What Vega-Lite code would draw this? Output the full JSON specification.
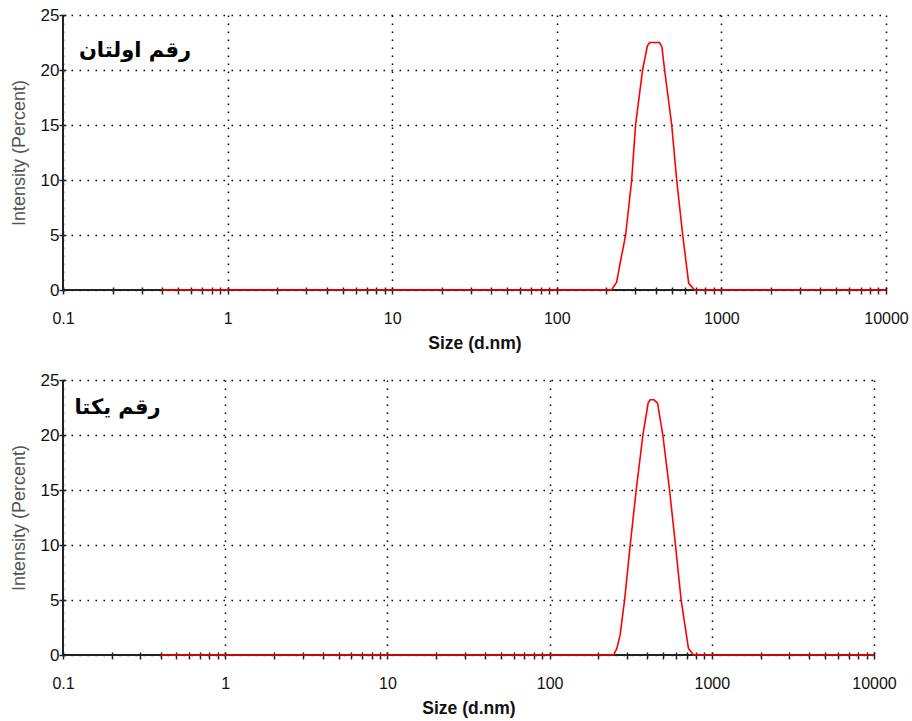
{
  "$schema": "https://vega.github.io/schema/vega-lite/v6.json",
  "background": "white",
  "padding": {"left": 10, "top": 6, "right": 4, "bottom": 2},
  "config": {
    "view": {"stroke": null},
    "concat": {"spacing": 19}
  },
  "datasets": {
    "top": [
      {"size": 0.4, "intensity": 0},
      {"size": 215, "intensity": 0},
      {"size": 231, "intensity": 0.7},
      {"size": 243, "intensity": 2.5},
      {"size": 262, "intensity": 5},
      {"size": 285, "intensity": 10},
      {"size": 301, "intensity": 15},
      {"size": 332, "intensity": 20},
      {"size": 355, "intensity": 22.2},
      {"size": 367, "intensity": 22.5},
      {"size": 421, "intensity": 22.5},
      {"size": 435, "intensity": 22.1},
      {"size": 452, "intensity": 20},
      {"size": 499, "intensity": 15},
      {"size": 535, "intensity": 10},
      {"size": 582, "intensity": 5},
      {"size": 633, "intensity": 0.6},
      {"size": 688, "intensity": 0},
      {"size": 10000, "intensity": 0}
    ],
    "bottom": [
      {"size": 0.4, "intensity": 0},
      {"size": 248, "intensity": 0},
      {"size": 260, "intensity": 0.6},
      {"size": 272, "intensity": 1.8},
      {"size": 290, "intensity": 5},
      {"size": 314, "intensity": 10},
      {"size": 342, "intensity": 15},
      {"size": 376, "intensity": 20},
      {"size": 405, "intensity": 22.9},
      {"size": 417, "intensity": 23.2},
      {"size": 440, "intensity": 23.2},
      {"size": 463, "intensity": 22.9},
      {"size": 499, "intensity": 20},
      {"size": 549, "intensity": 15},
      {"size": 597, "intensity": 10},
      {"size": 647, "intensity": 5},
      {"size": 718, "intensity": 0.6},
      {"size": 771, "intensity": 0},
      {"size": 10000, "intensity": 0}
    ],
    "labelTop": [{"label": "رقم اولتان"}],
    "labelBottom": [{"label": "رقم یکتا"}]
  },
  "vconcat": [
    {
      "width": 823,
      "height": 275,
      "layer": [
        {
          "data": {"values": [{}]},
          "mark": {"type": "rule", "color": "#222222", "strokeWidth": 2},
          "encoding": {"y": {"datum": 0, "type": "quantitative"}}
        },
        {
          "data": {"values": [{}]},
          "mark": {"type": "rule", "color": "#222222", "strokeWidth": 2},
          "encoding": {"x": {"datum": 0.1, "type": "quantitative"}}
        },
        {
          "data": {"name": "top"},
          "mark": {"type": "line", "color": "#ff0000", "strokeWidth": 1.6},
          "encoding": {
            "x": {
              "field": "size", "type": "quantitative",
              "scale": {"type": "log", "domain": [0.1, 10000], "nice": false},
              "axis": {
                "values": [0.1,0.2,0.3,0.4,0.5,0.6,0.7,0.8,0.9,1,2,3,4,5,6,7,8,9,10,20,30,40,50,60,70,80,90,100,200,300,400,500,600,700,800,900,1000,2000,3000,4000,5000,6000,7000,8000,9000,10000],
                "labelExpr": "abs(log(datum.value)/LN10 - round(log(datum.value)/LN10)) < 0.001 ? (datum.value < 1 ? '0.1' : format(datum.value, 'd')) : ''",
                "domain": false,
                "offset": -3,
                "tickSize": 7,
                "tickColor": "#222222",
                "tickWidth": 1.5,
                "grid": true,
                "gridColor": "#000000",
                "gridOpacity": {"condition": {"test": "abs(log(datum.value)/LN10 - round(log(datum.value)/LN10)) < 0.001", "value": 1}, "value": 0},
                "gridDash": [1.5, 6.5],
                "gridWidth": 1.5,
                "labelFont": "Liberation Sans",
                "labelFontSize": 16,
                "labelColor": "#111111",
                "labelPadding": 16,
                "labelFlush": false,
                "title": "Size (d.nm)",
                "titleFont": "Liberation Sans",
                "titleFontSize": 17.5,
                "titleFontWeight": "bold",
                "titleColor": "#111111",
                "titlePadding": 8
              }
            },
            "y": {
              "field": "intensity", "type": "quantitative",
              "scale": {"domain": [0, 25], "nice": false},
              "axis": {
                "values": [0,2.5,5,7.5,10,12.5,15,17.5,20,22.5,25],
                "labelExpr": "datum.value % 5 == 0 ? datum.label : ''",
                "domain": false,
                "offset": -3,
                "tickSize": 7,
                "tickColor": "#222222",
                "tickWidth": 1.5,
                "grid": true,
                "gridColor": "#000000",
                "gridOpacity": {"condition": {"test": "datum.value % 5 == 0", "value": 1}, "value": 0},
                "gridDash": [1.5, 6.5],
                "gridWidth": 1.5,
                "labelFont": "Liberation Sans",
                "labelFontSize": 17,
                "labelColor": "#111111",
                "labelPadding": 0,
                "labelFlush": false,
                "title": "Intensity (Percent)",
                "titleFont": "Liberation Sans",
                "titleFontSize": 18,
                "titleFontWeight": "normal",
                "titleColor": "#555555",
                "titlePadding": 12
              }
            }
          }
        },
        {
          "data": {"name": "labelTop"},
          "mark": {"type": "text", "font": "DejaVu Sans", "fontWeight": "bold", "fontSize": 21, "align": "right", "baseline": "middle", "color": "#000000"},
          "encoding": {
            "x": {"datum": 0.6, "type": "quantitative"},
            "y": {"datum": 21.7, "type": "quantitative"},
            "text": {"field": "label"}
          }
        }
      ]
    },
    {
      "width": 811,
      "height": 275,
      "layer": [
        {
          "data": {"values": [{}]},
          "mark": {"type": "rule", "color": "#222222", "strokeWidth": 2},
          "encoding": {"y": {"datum": 0, "type": "quantitative"}}
        },
        {
          "data": {"values": [{}]},
          "mark": {"type": "rule", "color": "#222222", "strokeWidth": 2},
          "encoding": {"x": {"datum": 0.1, "type": "quantitative"}}
        },
        {
          "data": {"name": "bottom"},
          "mark": {"type": "line", "color": "#ff0000", "strokeWidth": 1.6},
          "encoding": {
            "x": {
              "field": "size", "type": "quantitative",
              "scale": {"type": "log", "domain": [0.1, 10000], "nice": false},
              "axis": {
                "values": [0.1,0.2,0.3,0.4,0.5,0.6,0.7,0.8,0.9,1,2,3,4,5,6,7,8,9,10,20,30,40,50,60,70,80,90,100,200,300,400,500,600,700,800,900,1000,2000,3000,4000,5000,6000,7000,8000,9000,10000],
                "labelExpr": "abs(log(datum.value)/LN10 - round(log(datum.value)/LN10)) < 0.001 ? (datum.value < 1 ? '0.1' : format(datum.value, 'd')) : ''",
                "domain": false,
                "offset": -3,
                "tickSize": 7,
                "tickColor": "#222222",
                "tickWidth": 1.5,
                "grid": true,
                "gridColor": "#000000",
                "gridOpacity": {"condition": {"test": "abs(log(datum.value)/LN10 - round(log(datum.value)/LN10)) < 0.001", "value": 1}, "value": 0},
                "gridDash": [1.5, 6.5],
                "gridWidth": 1.5,
                "labelFont": "Liberation Sans",
                "labelFontSize": 16,
                "labelColor": "#111111",
                "labelPadding": 16,
                "labelFlush": false,
                "title": "Size (d.nm)",
                "titleFont": "Liberation Sans",
                "titleFontSize": 17.5,
                "titleFontWeight": "bold",
                "titleColor": "#111111",
                "titlePadding": 8
              }
            },
            "y": {
              "field": "intensity", "type": "quantitative",
              "scale": {"domain": [0, 25], "nice": false},
              "axis": {
                "values": [0,2.5,5,7.5,10,12.5,15,17.5,20,22.5,25],
                "labelExpr": "datum.value % 5 == 0 ? datum.label : ''",
                "domain": false,
                "offset": -3,
                "tickSize": 7,
                "tickColor": "#222222",
                "tickWidth": 1.5,
                "grid": true,
                "gridColor": "#000000",
                "gridOpacity": {"condition": {"test": "datum.value % 5 == 0", "value": 1}, "value": 0},
                "gridDash": [1.5, 6.5],
                "gridWidth": 1.5,
                "labelFont": "Liberation Sans",
                "labelFontSize": 17,
                "labelColor": "#111111",
                "labelPadding": 0,
                "labelFlush": false,
                "title": "Intensity (Percent)",
                "titleFont": "Liberation Sans",
                "titleFontSize": 18,
                "titleFontWeight": "normal",
                "titleColor": "#555555",
                "titlePadding": 12
              }
            }
          }
        },
        {
          "data": {"name": "labelBottom"},
          "mark": {"type": "text", "font": "DejaVu Sans", "fontWeight": "bold", "fontSize": 21, "align": "right", "baseline": "middle", "color": "#000000"},
          "encoding": {
            "x": {"datum": 0.4, "type": "quantitative"},
            "y": {"datum": 22.45, "type": "quantitative"},
            "text": {"field": "label"}
          }
        }
      ]
    }
  ]
}
